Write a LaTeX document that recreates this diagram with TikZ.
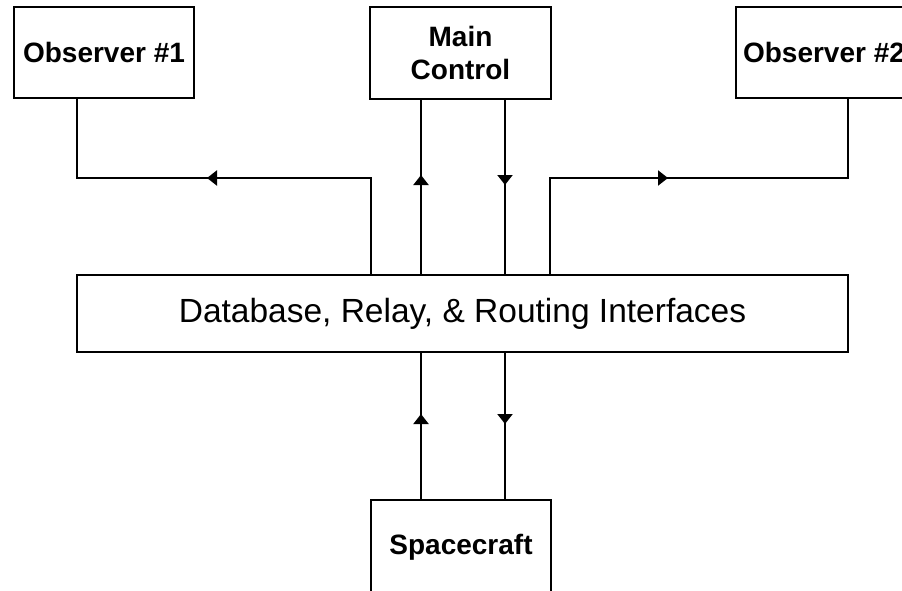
\documentclass[tikz,border=0pt]{standalone}
\usepackage{fontspec}
\setmainfont{Liberation Sans}
\usetikzlibrary{arrows.meta,decorations.markings}
\begin{document}
\begin{tikzpicture}[x=1pt,y=-1pt,
  box/.style={draw=black,line width=2pt,fill=white,inner sep=0pt,outer sep=0pt,
    align=center,font=\fontsize{28}{33}\selectfont\bfseries},
  link/.style={line width=2pt,black},
  tipat/.style={postaction={decorate},decoration={markings,
    mark=at position #1 with {\arrow{Triangle[width=15pt,length=10pt]}}}}
]
\useasboundingbox (0,0) rectangle (902,591);
\fill[white] (0,0) rectangle (902,591);
\clip (0,0) rectangle (902,591);

% blocks
\node[box,minimum width=180pt,minimum height=91pt] (obs1) at (104,52.5) {Observer \#1};
\node[box,minimum width=181pt,minimum height=92pt] (main) at (460.5,53) {Main\\Control};
\node[box,minimum width=176pt,minimum height=91pt] (obs2) at (824,52.5) {Observer \#2};
\node[box,minimum width=771pt,minimum height=77pt,font=\fontsize{33.5}{38}\selectfont]
  (db) at (462.5,313.5) {Database, Relay, \& Routing Interfaces};
\node[box,minimum width=180pt,minimum height=94pt] (sc) at (461,547) {Spacecraft};

% links to the observers
\draw[link,tipat=261pt] (db.north -| 371,0) |- (77,178) -- (obs1.south -| 77,0);
\draw[link,tipat=215pt] (db.north -| 550,0) |- (848,178) -- (obs2.south -| 848,0);

% links to main control
\draw[link,tipat=100pt] (db.north -| 421,0) -- (main.south -| 421,0);
\draw[link,tipat=86pt] (main.south -| 505,0) -- (db.north -| 505,0);

% links to the spacecraft
\draw[link,tipat=86pt] (sc.north -| 421,0) -- (db.south -| 421,0);
\draw[link,tipat=72pt] (db.south -| 505,0) -- (sc.north -| 505,0);
\end{tikzpicture}
\end{document}
